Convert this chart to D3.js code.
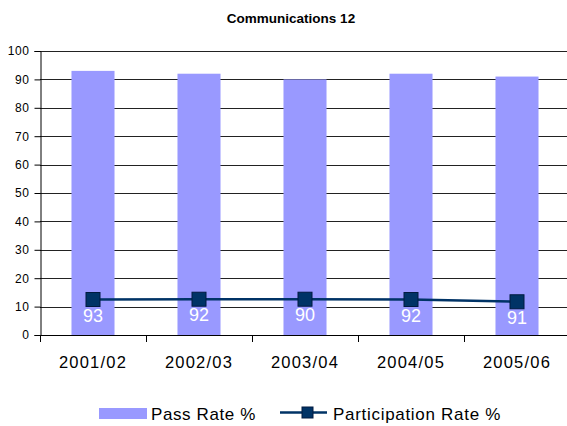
<!DOCTYPE html>
<html>
<head>
<meta charset="utf-8">
<script src="https://cdn.jsdelivr.net/npm/d3@7"></script>
<style>
  html, body { margin: 0; padding: 0; background: #fff; }
  svg { display: block; font-family: "Liberation Sans", Arial, sans-serif; }
</style>
</head>
<body>
<div id="chart"></div>
<script>
// Chart data
const categories = ["2001/02", "2002/03", "2003/04", "2004/05", "2005/06"];
const passRate = [93, 92, 90, 92, 91];
const participationRate = [12.5, 12.6, 12.6, 12.5, 11.7];
const yTicks = [0, 10, 20, 30, 40, 50, 60, 70, 80, 90, 100];
const titleText = "Communications 12";
const seriesNames = ["Pass Rate %", "Participation Rate %"];

const W = 567, H = 426;
const plot = { left: 40, right: 570, top: 51, bottom: 335 };

const barColor = "#9999ff";
const lineColor = "#003366";

const svg = d3.select("#chart").append("svg")
  .attr("width", W).attr("height", H);

svg.append("rect").attr("width", W).attr("height", H).attr("fill", "#fff");

const x = d3.scaleBand()
  .domain(categories)
  .range([plot.left, plot.right])
  .paddingInner(0.594)
  .paddingOuter(0.297);

const y = d3.scaleLinear()
  .domain([0, 100])
  .range([plot.bottom, plot.top]);

// Title
svg.append("text")
  .attr("x", 291).attr("y", 23)
  .attr("text-anchor", "middle")
  .attr("font-weight", "bold")
  .attr("font-size", "13.5px")
  .attr("fill", "#000")
  .text(titleText);

// Horizontal gridlines
svg.append("g").selectAll("line")
  .data(yTicks.filter(d => d > 0))
  .join("line")
  .attr("x1", plot.left).attr("x2", W)
  .attr("y1", d => Math.round(y(d)) + 0.5)
  .attr("y2", d => Math.round(y(d)) + 0.5)
  .attr("stroke", "#222")
  .attr("stroke-width", 1);

// Bars
svg.append("g").selectAll("rect")
  .data(categories)
  .join("rect")
  .attr("x", d => x(d))
  .attr("width", x.bandwidth())
  .attr("y", (d, i) => y(passRate[i]))
  .attr("height", (d, i) => y(0) - y(passRate[i]))
  .attr("fill", barColor);

// Y axis
const yAxis = d3.axisLeft(y)
  .tickValues(yTicks)
  .tickSize(6)
  .tickPadding(5);
const gy = svg.append("g")
  .attr("transform", `translate(${plot.left + 0.5},0)`)
  .call(yAxis);
gy.select(".domain").attr("stroke", "#000");
gy.selectAll(".tick line").attr("stroke", "#000");
gy.selectAll(".tick text")
  .attr("font-size", "12px")
  .attr("letter-spacing", "0.6px")
  .attr("fill", "#000")
  .attr("font-family", "Liberation Sans, Arial, sans-serif");

// X axis baseline and ticks at category boundaries
const gx = svg.append("g");
gx.append("line")
  .attr("x1", plot.left).attr("x2", W)
  .attr("y1", Math.round(y(0)) + 0.5).attr("y2", Math.round(y(0)) + 0.5)
  .attr("stroke", "#000");
const boundaries = d3.range(categories.length + 1)
  .map(i => plot.left + i * x.step());
gx.selectAll("line.tick")
  .data(boundaries)
  .join("line")
  .attr("class", "tick")
  .attr("x1", d => Math.round(d) + 0.5).attr("x2", d => Math.round(d) + 0.5)
  .attr("y1", y(0)).attr("y2", y(0) + 7)
  .attr("stroke", "#000");
gx.selectAll("text")
  .data(categories)
  .join("text")
  .attr("x", d => x(d) + x.bandwidth() / 2)
  .attr("y", 368)
  .attr("text-anchor", "middle")
  .attr("font-size", "16.5px")
  .attr("letter-spacing", "1.2px")
  .attr("fill", "#000")
  .text(d => d);

// Participation line with square markers
const line = d3.line()
  .x((d, i) => x(categories[i]) + x.bandwidth() / 2)
  .y(d => y(d));
svg.append("path")
  .datum(participationRate)
  .attr("d", line)
  .attr("fill", "none")
  .attr("stroke", lineColor)
  .attr("stroke-width", 2.5);

const ms = 14;
svg.append("g").selectAll("rect")
  .data(participationRate)
  .join("rect")
  .attr("x", (d, i) => x(categories[i]) + x.bandwidth() / 2 - ms / 2)
  .attr("y", d => y(d) - ms / 2)
  .attr("width", ms).attr("height", ms)
  .attr("fill", lineColor)
  .attr("stroke", "#001a40")
  .attr("stroke-width", 1);

// Pass rate value labels
svg.append("g").selectAll("text")
  .data(passRate)
  .join("text")
  .attr("x", (d, i) => x(categories[i]) + x.bandwidth() / 2)
  .attr("y", (d, i) => y(participationRate[i]) + 22)
  .attr("text-anchor", "middle")
  .attr("font-size", "18px")
  .attr("fill", "#fff")
  .text(d => d3.format("d")(d));

// Legend
const lg = svg.append("g");
lg.append("rect")
  .attr("x", 99).attr("y", 408).attr("width", 48).attr("height", 11)
  .attr("fill", barColor);
lg.append("text")
  .attr("x", 151).attr("y", 420)
  .attr("font-size", "17px")
  .attr("letter-spacing", "0.6px")
  .attr("fill", "#000")
  .text(seriesNames[0]);
lg.append("line")
  .attr("x1", 280).attr("x2", 327)
  .attr("y1", 412.5).attr("y2", 412.5)
  .attr("stroke", lineColor).attr("stroke-width", 2.5);
lg.append("rect")
  .attr("x", 302).attr("y", 407).attr("width", 11).attr("height", 11)
  .attr("fill", lineColor)
  .attr("stroke", "#001a40").attr("stroke-width", 1);
lg.append("text")
  .attr("x", 333).attr("y", 420)
  .attr("font-size", "17px")
  .attr("letter-spacing", "0.7px")
  .attr("fill", "#000")
  .text(seriesNames[1]);
</script>
</body>
</html>
